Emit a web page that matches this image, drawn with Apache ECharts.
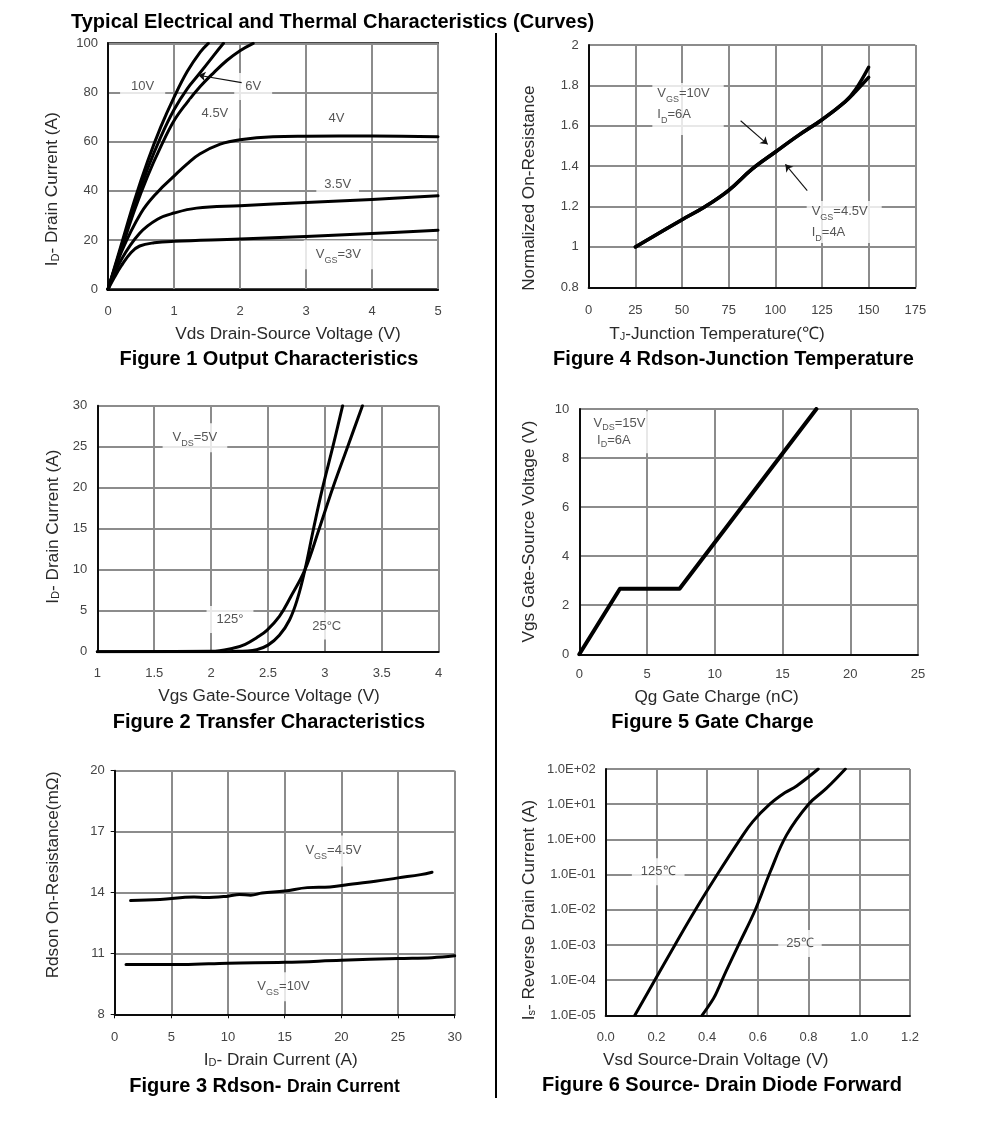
<!DOCTYPE html>
<html><head><meta charset="utf-8">
<style>html,body{margin:0;padding:0;background:#fff}#c{width:991px;height:1137px}</style>
<script src="https://cdn.jsdelivr.net/npm/echarts@6/dist/echarts.min.js"></script>
</head><body><div id="c"></div>
<script>
// ---- Figure 1 Output Characteristics: [Vds, Id]
const fig1Vgs10 = [[0,0],[0.2,18],[0.4,36],[0.6,52],[0.8,66],[1,78],[1.2,88.5],[1.4,96.5],[1.52,100]];
const fig1Vgs6 = [[0,0],[0.2,17],[0.4,34],[0.6,49],[0.8,62],[1,73],[1.2,81.5],[1.38,87.5],[1.6,95],[1.75,100]];
const fig1Vgs45 = [[0,0],[0.2,16],[0.4,32],[0.6,46],[0.8,58],[1,68.5],[1.2,76],[1.4,82.5],[1.6,88],[1.8,93],[2,97],[2.2,100]];
const fig1Vgs4 = [[0,0],[0.2,15],[0.5,31],[0.75,39.5],[1,46],[1.2,51],[1.39,55],[1.7,59],[2,60.8],[2.5,62],[3,62.2],[4,62.3],[5,62]];
const fig1Vgs35 = [[0,0],[0.2,12],[0.48,22.8],[0.75,28.5],[1,31],[1.34,33],[2,34],[3,35.3],[4,36.5],[5,38]];
const fig1Vgs3 = [[0,0],[0.1,5],[0.2,9.5],[0.35,15],[0.48,17.6],[0.7,18.9],[1,19.5],[2,20.4],[3,21.5],[4,22.7],[5,24]];
// ---- Figure 2 Transfer Characteristics: [Vgs, Id]
const fig2T25 = [[1,0],[2,0],[2.2,0.03],[2.4,0.25],[2.5,0.8],[2.6,2],[2.69,3.9],[2.76,6.5],[2.825,10],[2.9,15],[2.98,20],[3.07,25],[3.156,30]];
const fig2T125 = [[1,0],[2,0.05],[2.2,0.45],[2.3,0.9],[2.4,1.7],[2.49,2.6],[2.6,4.3],[2.7,6.7],[2.825,10],[2.95,15],[3.07,20],[3.2,25],[3.33,30]];
// ---- Figure 3 Rdson vs Drain Current: [Id, Rdson]
const fig3Vgs45 = [[1.4,13.6],[4,13.65],[7,13.78],[8,13.75],[10,13.82],[11,13.9],[12,13.87],[13,13.97],[15,14.07],[17,14.24],[19,14.27],[21,14.42],[23,14.55],[25,14.72],[27,14.88],[28,15]];
const fig3Vgs10 = [[1,10.45],[6,10.45],[10,10.52],[15,10.56],[20,10.66],[25,10.75],[28,10.79],[30,10.88]];
const fig3YTicks = [8,11,14,17,20];
// ---- Figure 4 Rdson vs Junction Temperature: [Tj, normalized]
const fig4Vgs10 = [[25,1],[50,1.135],[62.5,1.2],[75,1.28],[87.5,1.385],[100,1.47],[112,1.55],[125,1.63],[137.5,1.72],[143,1.78],[150,1.89]];
const fig4Vgs45 = [[25,1],[50,1.135],[62.5,1.2],[75,1.28],[87.5,1.385],[100,1.47],[112,1.55],[125,1.63],[137.5,1.72],[143,1.77],[150,1.84]];
// ---- Figure 5 Gate Charge: [Qg, Vgs]
const fig5Gate = [[0,0],[3,2.67],[7.4,2.67],[17.5,10]];
// ---- Figure 6 Source-Drain Diode Forward: [Vsd, Is]
const fig6T125 = [[0.115,1e-5],[0.194,1e-4],[0.273,1e-3],[0.354,1e-2],[0.44,1e-1],[0.53,1],[0.58,3.2],[0.647,10],[0.706,21],[0.753,33],[0.838,100]];
const fig6T25 = [[0.38,1e-5],[0.425,3e-5],[0.445,5.9e-5],[0.465,1.26e-4],[0.524,1e-3],[0.59,1e-2],[0.649,0.12],[0.713,1.32],[0.8,10],[0.87,28],[0.945,100]];
const fig6YLabels = ['1.0E-05','1.0E-04','1.0E-03','1.0E-02','1.0E-01','1.0E+00','1.0E+01','1.0E+02'];

const FONT = '"Liberation Sans", Arial, sans-serif';
const TXT = '#2a2a2a', TICK = '#444', GRID = '#8c8c8c', INK = '#0c0c0c';
const NAME = 17.2, NOTE = 13;
const sub = {fontSize: 9, verticalAlign: 'bottom', padding: [4,0,0,0], fontFamily: FONT, color: TXT};
const subName = {fontSize: 11, verticalAlign: 'bottom', padding: [6,0,0,0], fontFamily: FONT, color: TXT};
const VGS = v => `{n|V}{s|GS}{n|=${v}}`;
const VDS = v => `{n|V}{s|DS}{n|=${v}}`;
const ID = v => `{n|I}{s|D}{n|=${v}}`;

// One descriptor per panel; a note is [x, y, text, padding, left-anchored?]
const panels = [
 {box:[108,43.3,438,289.3], frame:true,
  x:{min:0,max:5,interval:1,name:'Vds Drain-Source Voltage (V)',gap:36,shift:15,m:16},
  y:{min:0,max:100,interval:20,name:'{n|I}{s|D}{n|- Drain Current (A)}',gap:47,shift:23},
  lines:[[fig1Vgs10,3],[fig1Vgs6,3],[fig1Vgs45,3],[fig1Vgs4,3],[fig1Vgs35,3],[fig1Vgs3,3]],
  notes:[[0.525,82.4,'{n|10V}',[3,11]],[2.2,82.4,'{n|6V}',[3,11]],[1.62,71.3,'{n|4.5V}',[4,11]],[3.46,69.5,'{n|4V}',[3,8]],[3.48,42.7,'{n|3.5V}',[3,8]],[3.49,14,VGS('3V'),[4,12]]],
  arrows:[[[2.025,84],[1.37,87]]]},
 {box:[97.3,405.7,438.7,651.7],
  x:{min:1,max:4,interval:0.5,name:'Vgs Gate-Source Voltage (V)',gap:36,shift:1,m:15},
  y:{min:0,max:30,interval:5,name:'{n|I}{s|D}{n|- Drain Current (A)}',gap:36,shift:-2},
  lines:[[fig2T25,3],[fig2T125,3]],
  notes:[[1.858,26.1,VDS('5V'),[4,10]],[2.166,3.94,'{n|125°}',[3,10]],[3.016,3.13,'{n|25°C}',[3,5]]]},
 {box:[114.7,770.7,454.7,1014.3], ticks:true,
  x:{min:0,max:30,interval:5,name:'{n|I}{s|D}{n|- Drain Current (A)}',gap:37,shift:-4,m:17},
  y:{min:8,max:20,custom:fig3YTicks,name:'Rdson On-Resistance(mΩ)',gap:53,shift:-17.5},
  lines:[[fig3Vgs45,3],[fig3Vgs10,3]],
  notes:[[19.3,16.05,VGS('4.5V'),[5,5]],[14.9,9.36,VGS('10V'),[4,5]]]},
 {box:[588.7,45,915.3,287.3],
  x:{min:0,max:175,interval:25,name:'{n|T}{s|J}{n|-Junction Temperature(℃)}',gap:38,shift:-35,m:17},
  y:{min:0.8,max:2,interval:0.2,name:'Normalized On-Resistance',gap:51,shift:22},
  lines:[[fig4Vgs10,3.5],[fig4Vgs45,3.5]],
  notes:[[34.1,1.683,VGS('10V')+'\n'+ID('6A'),[0,14,10,5],true],[116.8,1.124,VGS('4.5V')+'\n'+ID('4A'),[0,14,0,5],true]],
  arrows:[[[81.4,1.625],[95.9,1.508]],[[117.1,1.279],[105.4,1.409]]]},
 {box:[579.3,409,918,654.3],
  x:{min:0,max:25,interval:5,name:'Qg Gate Charge (nC)',gap:34,shift:-32,m:14},
  y:{min:0,max:10,interval:2,name:'Vgs Gate-Source Voltage (V)',gap:42,shift:0},
  lines:[[fig5Gate,4]],
  notes:[[0.9,9.05,'{m|V}{t|DS}{m|=15V}\n{m| I}{t|D}{m|=6A}',[4,4,4,2],true]]},
 {box:[605.7,769,910,1015.3], log:true,
  x:{min:0,max:1.2,interval:0.2,fixed:1,name:'Vsd Source-Drain Voltage (V)',gap:36,shift:-42,m:16},
  y:{min:1e-5,max:100,labels:fig6YLabels,name:'{n|I}{s|s}{n|- Reverse Drain Current (A)}',gap:68,shift:18},
  lines:[[fig6T125,3],[fig6T25,3]],
  notes:[[0.207,0.12,'{n|125℃}',[3,9]],[0.766,1.1e-3,'{n|25℃}',[3,8]]]}
];

const caption = (text,x,y) => ({text,left:x,top:y,padding:0,textAlign:'center',
  textStyle:{fontFamily:FONT,fontSize:20,fontWeight:'bold',color:'#000',
    rich:{a:{fontFamily:FONT,fontSize:20,fontWeight:'bold',color:'#000'},b:{fontFamily:FONT,fontSize:17.5,fontWeight:'bold',color:'#000',padding:[2,0,0,0]}}}});

const titles = [
 {text:'Typical Electrical and Thermal Characteristics (Curves)',left:71,top:12,padding:0,textStyle:{fontFamily:FONT,fontSize:20,fontWeight:'bold',color:'#000'}},
 caption('Figure 1 Output Characteristics',269,349),
 caption('Figure 4 Rdson-Junction Temperature',733.5,349),
 caption('Figure 2 Transfer Characteristics',269,712),
 caption('Figure 5 Gate Charge',712.5,712),
 caption('{a|Figure 3 Rdson-} {b|Drain Current}',264.5,1076),
 caption('Figure 6 Source- Drain Diode Forward',722,1075)
];

const grids=[],xAxes=[],yAxes=[],series=[];
const W=991,H=1137;
const nameStyle = (shiftPad) => ({fontFamily:FONT,fontSize:NAME,color:TXT,padding:shiftPad,
   rich:{n:{fontFamily:FONT,fontSize:NAME,color:TXT},s:subName}});
panels.forEach((p,i)=>{
  const [l,t,r,b]=p.box;
  grids.push({left:l,top:t,width:r-l,height:b-t,show:!!p.frame,borderColor:INK,borderWidth:2,backgroundColor:'transparent'});
  const axisCommon = {gridIndex:i,nameLocation:'middle',
    axisLine:{show:true,onZero:false,lineStyle:{color:INK,width:2}},
    splitLine:{show:true,lineStyle:{color:GRID,width:2}},
    minorSplitLine:{show:false}};
  xAxes.push({...axisCommon,type:'value',min:p.x.min,max:p.x.max,interval:p.x.interval,name:p.x.name,nameGap:p.x.gap,
    nameTextStyle:nameStyle(p.x.shift>=0?[0,0,0,p.x.shift*2]:[0,-p.x.shift*2,0,0]),
    axisTick:{show:!!p.ticks,length:4,lineStyle:{color:INK}},
    axisLabel:{fontFamily:FONT,fontSize:13,color:TICK,margin:p.x.m,
      formatter:p.x.fixed?(v=>v.toFixed(p.x.fixed)):undefined}});
  const y={...axisCommon,min:p.y.min,max:p.y.max,name:p.y.name,nameGap:p.y.gap,
    nameTextStyle:nameStyle(p.y.shift>=0?[0,p.y.shift*2,0,0]:[0,0,0,-p.y.shift*2]),
    axisTick:{show:!!p.ticks,length:4,lineStyle:{color:INK}},
    axisLabel:{fontFamily:FONT,fontSize:13,color:TICK,margin:10}};
  if(p.log){y.type='log';y.logBase=10;y.axisLabel.formatter=v=>p.y.labels[Math.round(Math.log10(v))+5];}
  else{y.type='value';
    if(p.y.custom){y.axisTick.customValues=p.y.custom;y.axisLabel.customValues=p.y.custom;}
    else y.interval=p.y.interval;}
  yAxes.push(y);
  p.lines.forEach(([data,w])=>series.push({type:'line',xAxisIndex:i,yAxisIndex:i,data,smooth:w===4?false:0.4,symbol:'none',clip:true,
     lineStyle:{color:'#000',width:w,cap:'round',join:'round'},z:3,silent:true}));
  series.push({type:'scatter',xAxisIndex:i,yAxisIndex:i,symbolSize:0,z:4,silent:true,
    data:p.notes.map(n=>({value:[n[0],n[1]],label:{formatter:n[2],padding:n[3],align:n[4]?'left':'center'}})),
    label:{show:true,position:'inside',align:'center',verticalAlign:'middle',backgroundColor:'#fff',
      fontFamily:FONT,fontSize:NOTE,color:TXT,lineHeight:21,
      rich:{n:{fontFamily:FONT,fontSize:NOTE,color:TXT,lineHeight:21},m:{fontFamily:FONT,fontSize:NOTE,color:TXT,lineHeight:17},s:sub,t:{...sub,lineHeight:17}}},
    labelLayout:{hideOverlap:false},
    markLine:p.arrows?{silent:true,symbol:['none','arrow'],symbolSize:7,animation:false,label:{show:false},
      lineStyle:{color:'#111',width:1.1,type:'solid'},
      data:p.arrows.map(a=>[{coord:a[0]},{coord:a[1]}])}:undefined});
});

const chart=echarts.init(document.getElementById('c'),null,{renderer:'canvas',width:W,height:H});
chart.setOption({animation:false,backgroundColor:'#fff',title:titles,grid:grids,xAxis:xAxes,yAxis:yAxes,series,
  graphic:[{type:'line',shape:{x1:496,y1:33,x2:496,y2:1098},style:{stroke:'#000',lineWidth:2},z:10}]});
</script></body></html>
